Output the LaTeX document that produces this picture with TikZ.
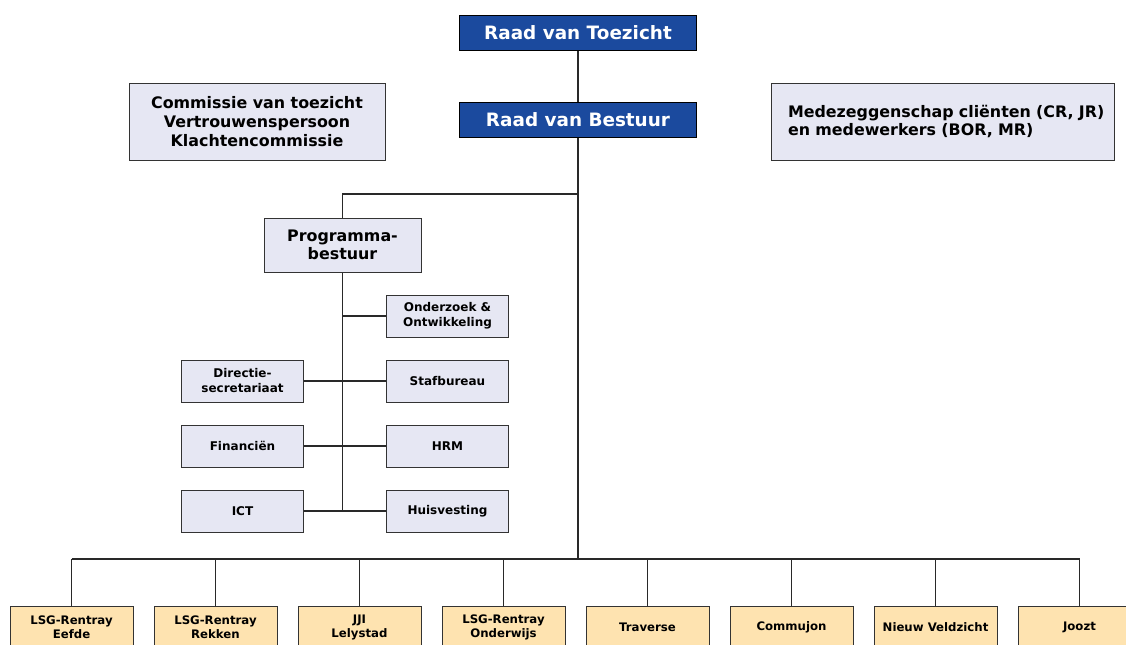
\documentclass[tikz,border=0pt]{standalone}
\usepackage{fontspec}
\setmainfont{DejaVu Sans}
\usepackage{tikz}
\definecolor{boardblue}{HTML}{1B4A9E}
\definecolor{lavender}{HTML}{E6E7F3}
\definecolor{peach}{HTML}{FEE3B0}
\definecolor{edge}{HTML}{333333}

\tikzset{
  box/.style={draw=edge, line width=0.75pt, align=center, inner sep=2pt},
  boardbox/.style={box, draw=black, fill=boardblue, text=white,
    minimum width=177.75pt, minimum height=26.25pt,
    font=\bfseries\fontsize{13.8}{16.5}\selectfont},
  sidebox/.style={box, fill=lavender,
    minimum height=57.75pt, font=\bfseries\fontsize{11.9}{14}\selectfont},
  staffbox/.style={box, fill=lavender,
    minimum width=91.5pt, minimum height=31.5pt,
    font=\bfseries\fontsize{9}{11.25}\selectfont},
  unitbox/.style={box, fill=peach,
    minimum width=92.25pt, minimum height=31.5pt,
    font=\bfseries\fontsize{8.8}{10.5}\selectfont},
  wire/.style={draw=edge!80!black, line width=0.85pt}
}

\begin{document}
\begin{tikzpicture}[x=0.75pt, y=-0.75pt]
      \useasboundingbox (0,0) rectangle (1126,644);
      \clip (0,0) rectangle (1126,644);
      % Top of the organisation
      \node[boardbox] (rvt) at (578,32.5) {Raad van Toezicht};
      \node[boardbox] (rvb) at (578,119.5) {Raad van Bestuur};
      \node[sidebox, minimum width=192pt] (cvt) at (257,121.5)
        {Commissie van toezicht\\Vertrouwenspersoon\\Klachtencommissie};
      \node[sidebox, align=left, text width=257.25pt, inner xsep=0pt,
        font=\bfseries\fontsize{11.9}{13.5}\selectfont] (mzs) at (942.5,121.5)
        {\hspace*{12.75pt}Medezeggenschap cliënten (CR, JR)\\
         \hspace*{12.75pt}en medewerkers (BOR, MR)};
      \node[sidebox, minimum width=117.75pt, minimum height=40.5pt,
        font=\bfseries\fontsize{11.9}{13.5}\selectfont] (pb) at (342.5,245)
        {Programma-\\bestuur};
      % Staff departments
      \node[staffbox] (oo) at (447.5,316) {Onderzoek \&\\Ontwikkeling};
      \node[staffbox] (sb) at (447.5,381) {Stafbureau};
      \node[staffbox] (hrm) at (447.5,446) {HRM};
      \node[staffbox] (hv) at (447.5,511) {Huisvesting};
      \node[staffbox] (ds) at (242.5,381) {Directie-\\secretariaat};
      \node[staffbox] (fin) at (242.5,446) {Financiën};
      \node[staffbox] (ict) at (242.5,511) {ICT};
      % Units
      \foreach[count=\i from 0] \unit in {%
        LSG-Rentray\\Eefde, LSG-Rentray\\Rekken, JJI\\Lelystad,
        LSG-Rentray\\Onderwijs, Traverse, Commujon, Nieuw Veldzicht, Joozt} {
        \node[unitbox] (u\i) at (71.5+144*\i,627) {\unit};
      }
      \coordinate (split) at (578,194);
      \coordinate (bus) at (578,559);
      % Lines
      \draw[wire] (rvt.south) -- (rvb.south |- rvb.north);
      \draw[wire] (rvb.south) -- (bus);
      \draw[wire] (split) -| (pb.north);
      \draw[wire] (pb.south) -- (pb.south |- ict.east);
      \draw[wire] (pb.south |- oo.west) -- (oo.west);
      \draw[wire] (ds.east) -- (sb.west);
      \draw[wire] (fin.east) -- (hrm.west);
      \draw[wire] (ict.east) -- (hv.west);
      \draw[wire] (u0.north |- bus) -- (u7.north |- bus);
      \foreach \i in {0,...,7} {
        \draw[wire] (u\i.north |- bus) -- (u\i.north);
      }
    \end{tikzpicture}
\end{document}
